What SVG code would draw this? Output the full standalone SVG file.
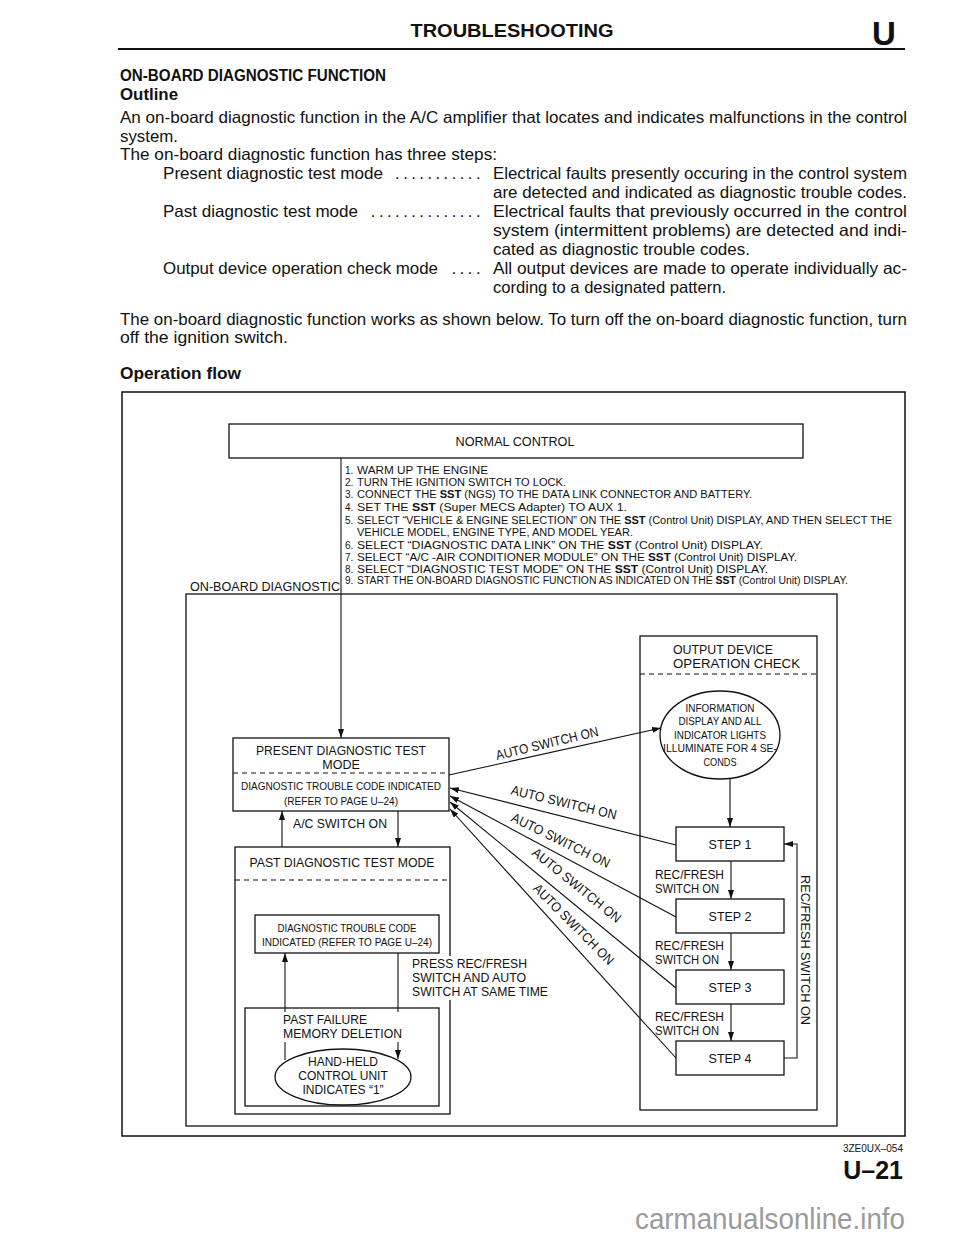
<svg xmlns="http://www.w3.org/2000/svg" width="960" height="1242" viewBox="0 0 960 1242">
<style>
text{font-family:"Liberation Sans",Arial,sans-serif;fill:#111}
.b{font-weight:bold}
.body{font-size:16.5px}
.lst{font-size:10px}
.n13{font-size:12.5px}
.n12{font-size:12px}
.n11{font-size:11px}
.lbl{font-size:13.5px}
.box{fill:#fff;stroke:#111;stroke-width:1.3}
.ln{fill:none;stroke:#111;stroke-width:1.1}
.dash{fill:none;stroke:#111;stroke-width:1.1;stroke-dasharray:5,4}
.mid{text-anchor:middle}
.end{text-anchor:end}
</style>
<defs>
<marker id="ah" markerWidth="9" markerHeight="6" refX="9" refY="3" orient="auto" markerUnits="userSpaceOnUse">
<path d="M0,0 L9,3 L0,6 z" fill="#111"/>
</marker>
</defs>
<rect width="960" height="1242" fill="#fff"/>

<g id="header">
<text x="512" y="37" class="b mid" font-size="18" textLength="203" lengthAdjust="spacingAndGlyphs">TROUBLESHOOTING</text>
<text x="884" y="45" class="b mid" font-size="33">U</text>
<line x1="118" y1="49" x2="905" y2="49" stroke="#111" stroke-width="2.2"/>
</g>

<g id="intro">
<text x="120" y="81" class="b" font-size="16" textLength="266" lengthAdjust="spacingAndGlyphs">ON-BOARD DIAGNOSTIC FUNCTION</text>
<text x="120" y="100" class="b" font-size="16" textLength="58" lengthAdjust="spacingAndGlyphs">Outline</text>
<text x="120" y="123" class="body" textLength="787" lengthAdjust="spacingAndGlyphs">An on-board diagnostic function in the A/C amplifier that locates and indicates malfunctions in the control</text>
<text x="120" y="142" class="body" textLength="58" lengthAdjust="spacingAndGlyphs">system.</text>
<text x="120" y="160" class="body" textLength="377" lengthAdjust="spacingAndGlyphs">The on-board diagnostic function has three steps:</text>
<text x="163" y="179" class="body" textLength="220" lengthAdjust="spacingAndGlyphs">Present diagnostic test mode</text>
<text x="484" y="179" class="body end" letter-spacing="3.5">...........</text>
<text x="493" y="179" class="body" textLength="414" lengthAdjust="spacingAndGlyphs">Electrical faults presently occuring in the control system</text>
<text x="493" y="198" class="body" textLength="414" lengthAdjust="spacingAndGlyphs">are detected and indicated as diagnostic trouble codes.</text>
<text x="163" y="217" class="body" textLength="195" lengthAdjust="spacingAndGlyphs">Past diagnostic test mode</text>
<text x="484" y="217" class="body end" letter-spacing="3.5">..............</text>
<text x="493" y="217" class="body" textLength="414" lengthAdjust="spacingAndGlyphs">Electrical faults that previously occurred in the control</text>
<text x="493" y="236" class="body" textLength="414" lengthAdjust="spacingAndGlyphs">system (intermittent problems) are detected and indi-</text>
<text x="493" y="255" class="body" textLength="257" lengthAdjust="spacingAndGlyphs">cated as diagnostic trouble codes.</text>
<text x="163" y="274" class="body" textLength="275" lengthAdjust="spacingAndGlyphs">Output device operation check mode</text>
<text x="484" y="274" class="body end" letter-spacing="3.5">....</text>
<text x="493" y="274" class="body" textLength="414" lengthAdjust="spacingAndGlyphs">All output devices are made to operate individually ac-</text>
<text x="493" y="293" class="body" textLength="233" lengthAdjust="spacingAndGlyphs">cording to a designated pattern.</text>
<text x="120" y="325" class="body" textLength="787" lengthAdjust="spacingAndGlyphs">The on-board diagnostic function works as shown below. To turn off the on-board diagnostic function, turn</text>
<text x="120" y="343" class="body" textLength="168" lengthAdjust="spacingAndGlyphs">off the ignition switch.</text>
<text x="120" y="379" class="b" font-size="16" textLength="121" lengthAdjust="spacingAndGlyphs">Operation flow</text>
</g>

<rect id="frame" x="122" y="392" width="783" height="744" fill="none" stroke="#111" stroke-width="1.5"/>

<g id="normal-control">
<rect x="229" y="424" width="574" height="34" class="box"/>
<text x="515" y="446" class="mid n13" textLength="119" lengthAdjust="spacingAndGlyphs">NORMAL CONTROL</text>
</g>

<g id="procedure">
<text x="345" y="474" class="lst">1.</text><text x="357" y="474" class="lst" textLength="131" lengthAdjust="spacingAndGlyphs">WARM UP THE ENGINE</text>
<text x="345" y="486" class="lst">2.</text><text x="357" y="486" class="lst" textLength="209" lengthAdjust="spacingAndGlyphs">TURN THE IGNITION SWITCH TO LOCK.</text>
<text x="345" y="498" class="lst">3.</text><text x="357" y="498" class="lst" textLength="395" lengthAdjust="spacingAndGlyphs">CONNECT THE <tspan class="b">SST</tspan> (NGS) TO THE DATA LINK CONNECTOR AND BATTERY.</text>
<text x="345" y="511" class="lst">4.</text><text x="357" y="511" class="lst" textLength="270" lengthAdjust="spacingAndGlyphs">SET THE <tspan class="b">SST</tspan> (Super MECS Adapter) TO AUX 1.</text>
<text x="345" y="524" class="lst">5.</text><text x="357" y="524" class="lst" textLength="535" lengthAdjust="spacingAndGlyphs">SELECT “VEHICLE &amp; ENGINE SELECTION” ON THE <tspan class="b">SST</tspan> (Control Unit) DISPLAY, AND THEN SELECT THE</text>
<text x="357" y="536" class="lst" textLength="276" lengthAdjust="spacingAndGlyphs">VEHICLE MODEL, ENGINE TYPE, AND MODEL YEAR.</text>
<text x="345" y="549" class="lst">6.</text><text x="357" y="549" class="lst" textLength="406" lengthAdjust="spacingAndGlyphs">SELECT “DIAGNOSTIC DATA LINK” ON THE <tspan class="b">SST</tspan> (Control Unit) DISPLAY.</text>
<text x="345" y="561" class="lst">7.</text><text x="357" y="561" class="lst" textLength="440" lengthAdjust="spacingAndGlyphs">SELECT “A/C -AIR CONDITIONER MODULE” ON THE <tspan class="b">SST</tspan> (Control Unit) DISPLAY.</text>
<text x="345" y="573" class="lst">8.</text><text x="357" y="573" class="lst" textLength="411" lengthAdjust="spacingAndGlyphs">SELECT “DIAGNOSTIC TEST MODE” ON THE <tspan class="b">SST</tspan> (Control Unit) DISPLAY.</text>
<text x="345" y="584" class="lst">9.</text><text x="357" y="584" class="lst" textLength="491" lengthAdjust="spacingAndGlyphs">START THE ON-BOARD DIAGNOSTIC FUNCTION AS INDICATED ON THE <tspan class="b">SST</tspan> (Control Unit) DISPLAY.</text>
</g>

<g id="on-board-diagnostic">
<rect x="186" y="594" width="651" height="532" fill="none" stroke="#111" stroke-width="1.3"/>
<text x="190" y="591" class="n13" textLength="150" lengthAdjust="spacingAndGlyphs">ON-BOARD DIAGNOSTIC</text>
</g>

<g id="present-mode">
<rect x="233" y="738" width="216" height="73" class="box"/>
<line x1="233" y1="773" x2="449" y2="773" class="dash"/>
<text x="341" y="755" class="mid n13" textLength="170" lengthAdjust="spacingAndGlyphs">PRESENT DIAGNOSTIC TEST</text>
<text x="341" y="769" class="mid n13">MODE</text>
<text x="341" y="790" class="mid n11" textLength="200" lengthAdjust="spacingAndGlyphs">DIAGNOSTIC TROUBLE CODE INDICATED</text>
<text x="341" y="805" class="mid n11" textLength="114" lengthAdjust="spacingAndGlyphs">(REFER TO PAGE U–24)</text>
</g>

<g id="past-mode">
<rect x="235" y="847" width="215" height="267" class="box"/>
<line x1="235" y1="880" x2="450" y2="880" class="dash"/>
<text x="342" y="867" class="mid n13" textLength="185" lengthAdjust="spacingAndGlyphs">PAST DIAGNOSTIC TEST MODE</text>
</g>

<g id="past-dtc">
<rect x="255" y="915" width="184" height="38" class="box"/>
<text x="347" y="932" class="mid n11" textLength="139" lengthAdjust="spacingAndGlyphs">DIAGNOSTIC TROUBLE CODE</text>
<text x="347" y="946" class="mid n11" textLength="170" lengthAdjust="spacingAndGlyphs">INDICATED (REFER TO PAGE U–24)</text>
</g>

<g id="memory-deletion">
<rect x="245" y="1008" width="194" height="98" class="box"/>
</g>

<g id="output-check">
<rect x="640" y="636" width="177" height="474" class="box"/>
<line x1="640" y1="674" x2="817" y2="674" class="dash"/>
<text x="673" y="654" class="n13" textLength="100" lengthAdjust="spacingAndGlyphs">OUTPUT DEVICE</text>
<text x="673" y="668" class="n13" textLength="127" lengthAdjust="spacingAndGlyphs">OPERATION CHECK</text>
</g>

<g id="connectors">
<line x1="341" y1="458" x2="341" y2="738" class="ln" marker-end="url(#ah)"/>
<line x1="282" y1="847" x2="282" y2="811" class="ln" marker-end="url(#ah)"/>
<line x1="398" y1="811" x2="398" y2="847" class="ln" marker-end="url(#ah)"/>
<line x1="285" y1="1060" x2="285" y2="953" class="ln" marker-end="url(#ah)"/>
<line x1="398" y1="953" x2="398" y2="1059" class="ln" marker-end="url(#ah)"/>
<line x1="449" y1="775" x2="661" y2="728" class="ln" marker-end="url(#ah)"/>
<line x1="676" y1="845" x2="450" y2="788" class="ln" marker-end="url(#ah)"/>
<line x1="676" y1="917" x2="450" y2="796" class="ln" marker-end="url(#ah)"/>
<line x1="676" y1="988" x2="450" y2="802" class="ln" marker-end="url(#ah)"/>
<line x1="676" y1="1058" x2="450" y2="809" class="ln" marker-end="url(#ah)"/>
<line x1="730" y1="778" x2="730" y2="827" class="ln" marker-end="url(#ah)"/>
<line x1="731" y1="861" x2="731" y2="899" class="ln" marker-end="url(#ah)"/>
<line x1="731" y1="933" x2="731" y2="970" class="ln" marker-end="url(#ah)"/>
<line x1="731" y1="1004" x2="731" y2="1041" class="ln" marker-end="url(#ah)"/>
<path d="M784,1058 H797 V844 H784" class="ln" marker-end="url(#ah)"/>
<text x="293" y="828" class="lbl" textLength="94" lengthAdjust="spacingAndGlyphs">A/C SWITCH ON</text>
<rect x="410" y="956" width="140" height="44" fill="#fff"/>
<text x="412" y="968" class="lbl" textLength="115" lengthAdjust="spacingAndGlyphs">PRESS REC/FRESH</text>
<text x="412" y="982" class="lbl" textLength="114" lengthAdjust="spacingAndGlyphs">SWITCH AND AUTO</text>
<text x="412" y="996" class="lbl" textLength="136" lengthAdjust="spacingAndGlyphs">SWITCH AT SAME TIME</text>
<rect x="281" y="1012" width="124" height="30" fill="#fff"/>
<text x="283" y="1024" class="lbl" textLength="84" lengthAdjust="spacingAndGlyphs">PAST FAILURE</text>
<text x="283" y="1038" class="lbl" textLength="119" lengthAdjust="spacingAndGlyphs">MEMORY DELETION</text>
<g transform="translate(547,743) rotate(-13.5)"><text x="0" y="5" class="mid lbl" textLength="105" lengthAdjust="spacingAndGlyphs">AUTO SWITCH ON</text></g>
<g transform="translate(564,802) rotate(13.5)"><text x="0" y="5" class="mid lbl" textLength="108" lengthAdjust="spacingAndGlyphs">AUTO SWITCH ON</text></g>
<g transform="translate(561,840) rotate(26)"><text x="0" y="5" class="mid lbl" textLength="108" lengthAdjust="spacingAndGlyphs">AUTO SWITCH ON</text></g>
<g transform="translate(577,885) rotate(39)"><text x="0" y="5" class="mid lbl" textLength="110" lengthAdjust="spacingAndGlyphs">AUTO SWITCH ON</text></g>
<g transform="translate(574,924) rotate(45)"><text x="0" y="5" class="mid lbl" textLength="108" lengthAdjust="spacingAndGlyphs">AUTO SWITCH ON</text></g>
<text x="655" y="879" class="lbl" textLength="69" lengthAdjust="spacingAndGlyphs">REC/FRESH</text>
<text x="655" y="893" class="lbl" textLength="64" lengthAdjust="spacingAndGlyphs">SWITCH ON</text>
<text x="655" y="950" class="lbl" textLength="69" lengthAdjust="spacingAndGlyphs">REC/FRESH</text>
<text x="655" y="964" class="lbl" textLength="64" lengthAdjust="spacingAndGlyphs">SWITCH ON</text>
<text x="655" y="1021" class="lbl" textLength="69" lengthAdjust="spacingAndGlyphs">REC/FRESH</text>
<text x="655" y="1035" class="lbl" textLength="64" lengthAdjust="spacingAndGlyphs">SWITCH ON</text>
<g transform="translate(806,950) rotate(90)"><text x="0" y="5" class="mid lbl" textLength="150" lengthAdjust="spacingAndGlyphs">REC/FRESH SWITCH ON</text></g>
</g>

<g id="hand-held">
<ellipse cx="343" cy="1077" rx="68" ry="28" class="box"/>
<text x="343" y="1066" class="mid n12">HAND-HELD</text>
<text x="343" y="1080" class="mid n12">CONTROL UNIT</text>
<text x="343" y="1094" class="mid n12">INDICATES “1”</text>
</g>

<g id="information">
<ellipse cx="720" cy="735" rx="60" ry="44" class="box"/>
<text x="720" y="712" class="mid n11" textLength="69" lengthAdjust="spacingAndGlyphs">INFORMATION</text>
<text x="720" y="725" class="mid n11" textLength="83" lengthAdjust="spacingAndGlyphs">DISPLAY AND ALL</text>
<text x="720" y="739" class="mid n11" textLength="92" lengthAdjust="spacingAndGlyphs">INDICATOR LIGHTS</text>
<text x="720" y="752" class="mid n11" textLength="114" lengthAdjust="spacingAndGlyphs">ILLUMINATE FOR 4 SE-</text>
<text x="720" y="766" class="mid n11" textLength="33" lengthAdjust="spacingAndGlyphs">CONDS</text>
</g>

<g id="step1"><rect x="676" y="827" width="108" height="34" class="box"/><text x="730" y="849" class="mid n13">STEP 1</text></g>
<g id="step2"><rect x="676" y="899" width="108" height="34" class="box"/><text x="730" y="921" class="mid n13">STEP 2</text></g>
<g id="step3"><rect x="676" y="970" width="108" height="34" class="box"/><text x="730" y="992" class="mid n13">STEP 3</text></g>
<g id="step4"><rect x="676" y="1041" width="108" height="34" class="box"/><text x="730" y="1063" class="mid n13">STEP 4</text></g>

<g id="footer">
<text x="903" y="1152" class="end" font-size="10">3ZE0UX–054</text>
<text x="903" y="1179" class="b end" font-size="25">U–21</text>
<text x="905" y="1229" class="end" font-size="30" style="fill:#9a9a9a" textLength="270" lengthAdjust="spacingAndGlyphs">carmanualsonline.info</text>
</g>
</svg>
